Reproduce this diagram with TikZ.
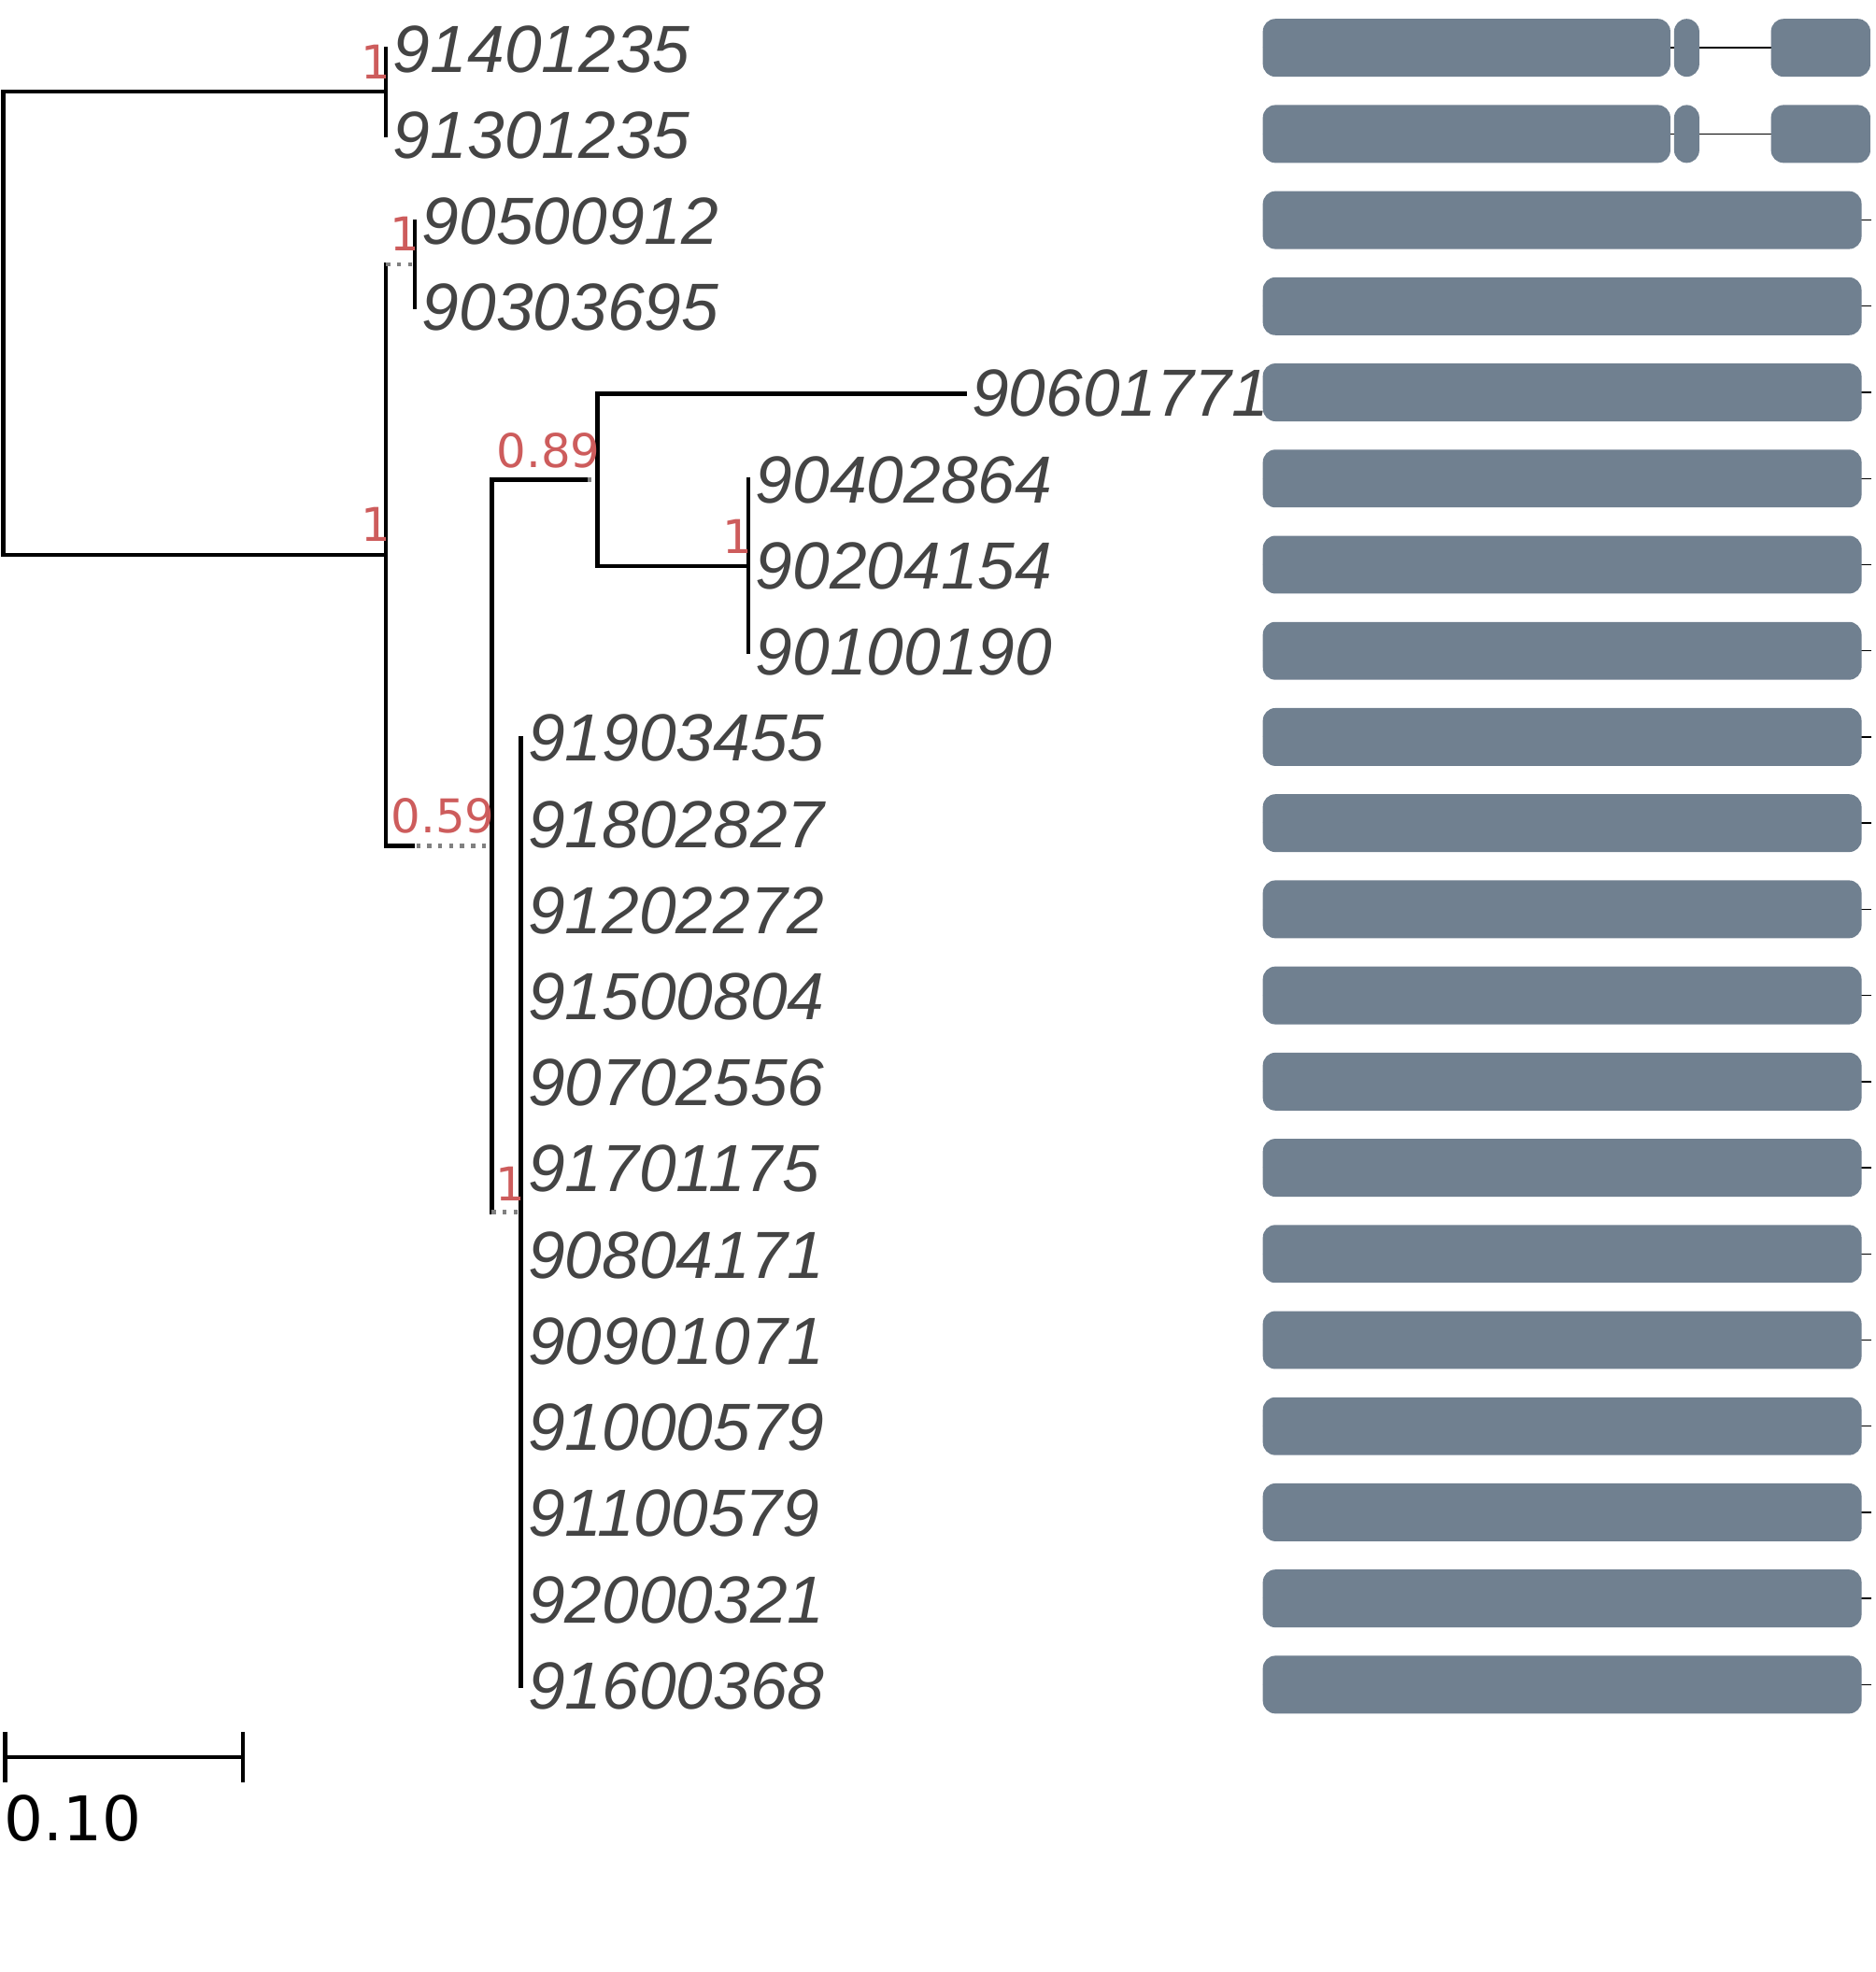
\documentclass[tikz,border=0pt]{standalone}
\usepackage{fontspec}
\setmainfont{Liberation Sans}
\newfontfamily\suppfont{DejaVu Sans}
\newfontfamily\barfont{DejaVu Sans}
\usepackage{tikz}
\usetikzlibrary{positioning}
\definecolor{suppred}{RGB}{205,92,92}
\definecolor{domgray}{RGB}{112,128,144}
\definecolor{leafgray}{RGB}{68,68,68}

\begin{document}
\begin{tikzpicture}[x=1pt, y=-1pt,
  branch/.style={line width=3.2pt, line cap=rect},
  extra/.style={line width=3.2pt, gray, dash pattern=on 3.2pt off 5.5pt},
  leaf/.style={inner sep=0pt, text=leafgray,
               font=\fontsize{53}{60}\selectfont\itshape},
  supp/.style={inner sep=0pt, anchor=south east, text=suppred,
               font=\fontsize{37}{40}\selectfont\suppfont},
  dom/.style={fill=domgray, rounded corners=10pt}
]
\useasboundingbox (0,0) rectangle (1491,1568);

% internal nodes
\coordinate (root) at (2.5,257);
\coordinate (n1)   at (307,73);
\coordinate (n2)   at (307,441);
\coordinate (nA)   at (330,210);
\coordinate (nB)   at (391,672.6);
\coordinate (nB1)  at (475,381.5);
\coordinate (nC)   at (595,450);
\coordinate (nD)   at (414,963.75);

% leaves
\foreach \i/\x/\name in {0/307/91401235, 1/307/91301235, 2/330/90500912,
    3/330/90303695, 4/767/90601771, 5/595/90402864, 6/595/90204154,
    7/595/90100190, 8/414/91903455, 9/414/91802827, 10/414/91202272,
    11/414/91500804, 12/414/90702556, 13/414/91701175, 14/414/90804171,
    15/414/90901071, 16/414/91000579, 17/414/91100579, 18/414/92000321,
    19/414/91600368}{
  \coordinate (l\i) at (\x,{39+68.5*\i});
  \node[leaf, right=5.5pt of l\i] (t\i) {\name};
}

% branches
\draw[branch] (root |- n1) -- (root |- n2);
\draw[branch] (root |- n1) -- (n1);
\draw[branch] (root |- n2) -- (n2);
\draw[branch] (n1 |- l0) -- (n1 |- l1);
\draw[branch] (n2 |- nA) -- (n2 |- nB);
\draw[extra] (n2 |- nA) -- (nA);
\draw[branch] (nA |- l2) -- (nA |- l3);
\draw[branch] (n2 |- nB) -- ([xshift=-63pt]nB);
\draw[extra] ([xshift=-60pt]nB) -- (nB);
\draw[branch] (nB |- nB1) -- (nB |- nD);
\draw[branch] (nB |- nB1) -- ([xshift=-9pt]nB1);
\draw[extra] ([xshift=-8pt]nB1) -- (nB1);
\draw[branch] (nB1 |- l4) -- (nB1 |- nC);
\draw[branch] (nB1 |- l4) -- (l4);
\draw[branch] (nB1 |- nC) -- (nC);
\draw[branch] (nC |- l5) -- (nC |- l7);
\draw[extra] (nB |- nD) -- (nD);
\draw[branch] (nD |- l8) -- (nD |- l19);

% support values
\node[supp] (s1) at ([xshift=3.5pt, yshift=10pt]n1) {1};
\node[supp] (s2) at ([xshift=3.5pt, yshift=10pt]n2) {1};
\node[supp] (sA) at ([xshift=3.5pt, yshift=10pt]nA) {1};
\node[supp] (sB) at ([xshift=2.5pt, yshift=10pt]nB) {0.59};
\node[supp] (sB1) at ([xshift=2.5pt, yshift=9pt]nB1) {0.89};
\node[supp] (sC) at ([xshift=3.5pt, yshift=10pt]nC) {1};
\node[supp] (sD) at ([xshift=3.5pt, yshift=9pt]nD) {1};

% domain boxes
\foreach \i in {0,1}{
  \draw[line width=1pt] (1004,{38+68.5*\i}) -- (1487,{38+68.5*\i});
  \fill[dom] (1004,{15+68.5*\i}) rectangle (1328,{61+68.5*\i});
  \fill[dom] (1331,{15+68.5*\i}) rectangle (1351,{61+68.5*\i});
  \fill[dom] (1408,{15+68.5*\i}) rectangle (1487,{61+68.5*\i});
}
\foreach \i in {2,...,19}{
  \draw[line width=1pt] (1004,{38+68.5*\i}) -- (1488,{38+68.5*\i});
  \fill[dom] (1004,{15+68.5*\i}) rectangle (1480,{61+68.5*\i});
}

% scale bar
\coordinate (sb0) at (4,1397);
\coordinate (sb1) at (193,1397);
\draw[line width=3.2pt] (sb0) -- (sb1);
\draw[line width=3.2pt] ([yshift=20pt]sb0) -- ([yshift=-20pt]sb0);
\draw[line width=3.2pt] ([yshift=20pt]sb1) -- ([yshift=-20pt]sb1);
\node[inner sep=0pt, anchor=north west, font=\fontsize{49}{54}\selectfont\barfont]
  (sbtxt) at (3,1427) {0.10};
\end{tikzpicture}
\end{document}
